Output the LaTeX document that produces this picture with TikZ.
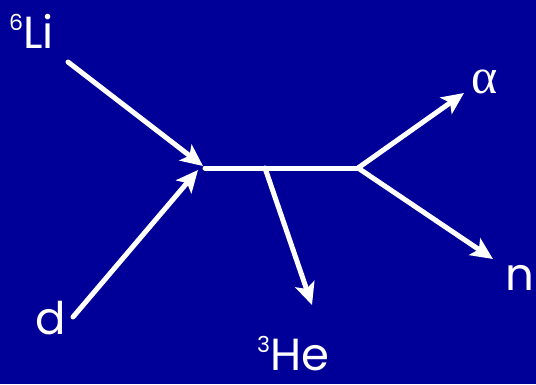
\documentclass[tikz,border=0pt]{standalone}
\usepackage{fontspec}
\setmainfont{Poppins}
\newfontfamily\greekfont{Liberation Serif}
\usetikzlibrary{arrows.meta}
\definecolor{bgblue}{RGB}{0,0,152}
\tikzset{
  track/.style={draw=white, line width=5pt, line cap=round},
  ptrack/.style={track, -{Stealth[length=22pt,width=20pt,inset=5pt]}},
  lbl/.style={text=white, anchor=base west, inner sep=0pt, font=\fontsize{45}{45}\selectfont}
}
\newcommand{\isotope}[1]{{\fontsize{22}{22}\selectfont\raisebox{18pt}{#1}}}
\begin{document}
\begin{tikzpicture}[x=1pt,y=-1pt]
\fill[bgblue] (0,0) rectangle (536,384);
\useasboundingbox (0,0) rectangle (536,384);
% coordinates
\coordinate (litail) at (68,62);
\coordinate (dtail) at (73,317);
\coordinate (vin) at (203,166);
\coordinate (vin2) at (198,170);
\coordinate (vl) at (205,168);
\coordinate (vhe) at (265,168);
\coordinate (vout) at (358,168);
\coordinate (hetip) at (312,305);
\coordinate (atip) at (464,93);
\coordinate (ntip) at (493,259);
% labels
\node[lbl] (li) at (9,48) {\isotope{6}Li};
\node[lbl] (d) at (35,334) {d};
\node[lbl] (he) at (257,370) {\isotope{3}He};
\node[lbl] (n) at (505,290) {n};
\node[lbl, font=\greekfont\fontsize{50}{50}\selectfont] (alpha) at (471,93) {α};
% tracks
\draw[ptrack] (litail) -- (vin);
\draw[ptrack] (dtail) -- (vin2);
\draw[track] (vl) -- (vout);
\draw[ptrack] (vhe) -- (hetip);
\draw[ptrack] (vout) -- (atip);
\draw[ptrack] (vout) -- (ntip);
\end{tikzpicture}
\end{document}
